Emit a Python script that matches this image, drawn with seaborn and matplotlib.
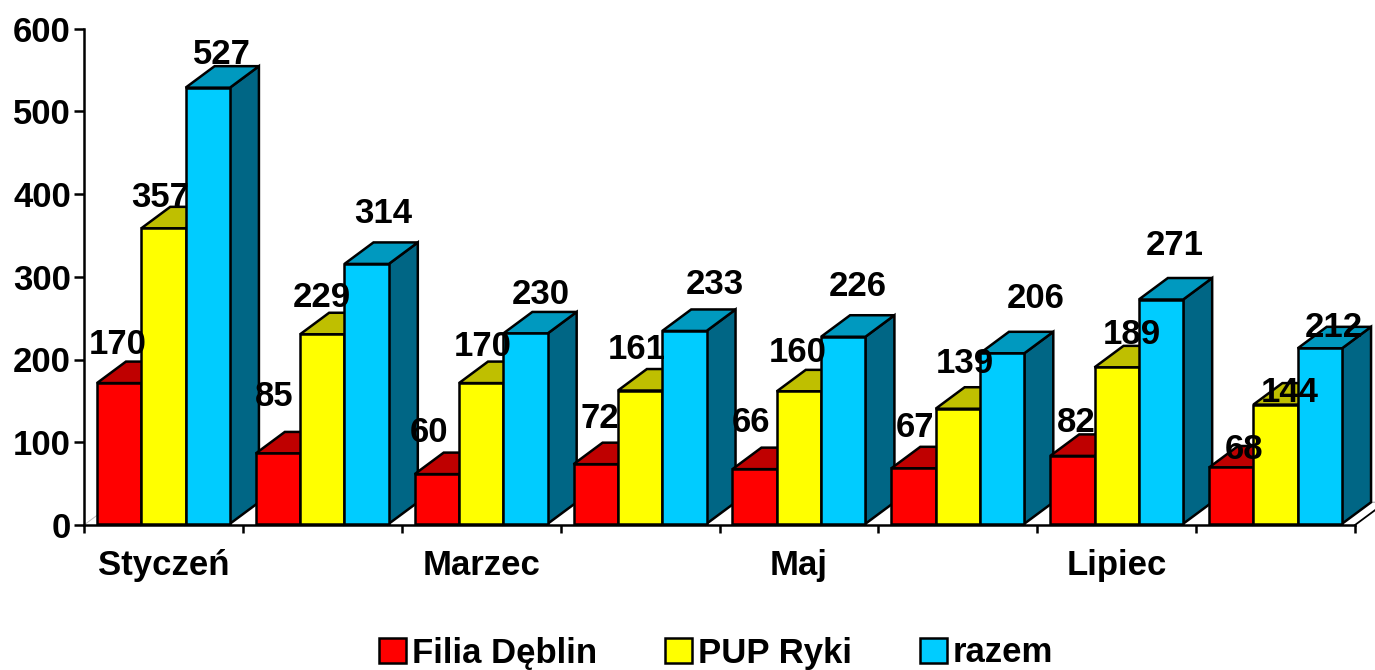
import matplotlib
matplotlib.use('Agg')
import matplotlib.pyplot as plt
import pandas as pd
import seaborn as sns

months = ['Styczeń', 'Luty', 'Marzec', 'Kwiecień', 'Maj', 'Czerwiec', 'Lipiec', 'Sierpień']
shown_months = ['Styczeń', 'Marzec', 'Maj', 'Lipiec']
series = ['Filia Dęblin', 'PUP Ryki', 'razem']
deblin = [170, 85, 60, 72, 66, 67, 82, 68]
ryki = [357, 229, 170, 161, 160, 139, 189, 144]
razem = [527, 314, 230, 233, 226, 206, 271, 212]
y_ticks = [0, 100, 200, 300, 400, 500, 600]

front = {'Filia Dęblin': '#ff0000', 'PUP Ryki': '#ffff00', 'razem': '#00ccff'}
top = {'Filia Dęblin': '#bf0000', 'PUP Ryki': '#bfbf00', 'razem': '#0099bf'}
side = {'Filia Dęblin': '#800000', 'PUP Ryki': '#808000', 'razem': '#006685'}

# label shift from the bar's top centre, in pixels, one row per month
label_shift = [
    [(-1, 39), (-3, 31), (14, 33)],
    [(-4, 57), (-1, 37), (17, 50)],
    [(-8, 42), (1, 37), (15, 39)],
    [(4, 46), (-3, 41), (30, 46)],
    [(-4, 47), (-1, 39), (14, 50)],
    [(2, 41), (7, 45), (34, 55)],
    [(4, 33), (15, 33), (14, 54)],
    [(13, 18), (14, 12), (14, 21)],
]

df = pd.DataFrame({
    'month': months * 3,
    'series': [s for s in series for _ in months],
    'value': deblin + ryki + razem,
})

plt.rcParams['font.family'] = ['Liberation Sans', 'DejaVu Sans']
plt.rcParams['font.weight'] = 'bold'
FS = 25

fig = plt.figure(figsize=(13.75, 6.7), dpi=100)
ax = fig.add_axes([84 / 1375, 1 - 525 / 670, (1355 - 84) / 1375, (525 - 28.5) / 670])

lift = 1.5
edge = 1.8
sns.barplot(data=df, x='month', y='value', hue='series', order=months, hue_order=series,
            palette=front, width=0.837, gap=0, dodge=True, saturation=1, errorbar=None,
            edgecolor='black', linewidth=edge, ax=ax)

ax.set_xlim(-0.5, 7.5)
ax.set_ylim(0, 600)

# depth of the fake 3D boxes, in data units
dx = 29 / 158.9
dy = 21.5 / 0.8275

for s, (name, bars) in enumerate(zip(series, ax.containers)):
    for m, bar in enumerate(bars):
        z = 3 + m * 10 + s * 3
        bar.set_y(lift)
        x0 = bar.get_x()
        x1 = x0 + bar.get_width()
        y0 = bar.get_y()
        y1 = y0 + bar.get_height()
        bar.set_zorder(z + 1)
        bar.set_clip_on(False)
        ax.fill([x1, x1 + dx, x1 + dx, x1], [y0, y0 + dy, y1 + dy, y1], facecolor=side[name],
                edgecolor='black', linewidth=edge, zorder=z, clip_on=False)
        ax.fill([x0, x0 + dx, x1 + dx, x1], [y1, y1 + dy, y1 + dy, y1], facecolor=top[name],
                edgecolor='black', linewidth=edge, zorder=z, clip_on=False)
        ax.annotate(f'{bar.get_height():.0f}', xy=((x0 + x1) / 2, y1),
                    xytext=label_shift[m][s], textcoords='offset pixels',
                    ha='center', va='center', fontsize=FS, fontweight='bold',
                    color='black', zorder=500, annotation_clip=False)

# faint floor edges
ax.plot([-0.5, -0.5 + dx], [0, dy], color='#bbbbbb', lw=0.7, zorder=1, clip_on=False)
last = ax.containers[-1][-1]
fx = last.get_x() + last.get_width()
ax.plot([fx, fx + dx, 7.7], [lift, lift + dy, lift + dy], color='#aaaaaa', lw=0.8, zorder=1, clip_on=False)
ax.plot([7.5, 7.5 + dx], [0, dy], color='black', lw=1.3, zorder=2, clip_on=False)

sns.despine(ax=ax)
for sp in ['left', 'bottom']:
    ax.spines[sp].set_linewidth(edge)
    ax.spines[sp].set_zorder(400)

ax.set_yticks(y_ticks)
ax.set_yticklabels([str(v) for v in y_ticks], fontsize=FS, fontweight='bold')
ax.tick_params(axis='y', length=7, width=edge, pad=2.5)

ax.set_xticks([i - 0.5 for i in range(len(months) + 1)])
ax.set_xticklabels([])
ax.tick_params(axis='x', which='major', length=6, width=edge)
ax.set_xticks([months.index(m) for m in shown_months], minor=True)
ax.set_xticklabels(shown_months, minor=True, fontsize=FS, fontweight='bold')
ax.tick_params(axis='x', which='minor', length=0, pad=17.5)

ax.set_xlabel('')
ax.set_ylabel('')

sns.move_legend(ax, 'center', bbox_to_anchor=(716 / 1375, 1 - 653 / 670),
                bbox_transform=fig.transFigure, ncol=3, frameon=False, title=None,
                fontsize=FS, handlelength=0.78, handleheight=0.75, handletextpad=0.17,
                columnspacing=1.95, borderpad=0, borderaxespad=0)

fig.savefig('out.png', dpi=100)
